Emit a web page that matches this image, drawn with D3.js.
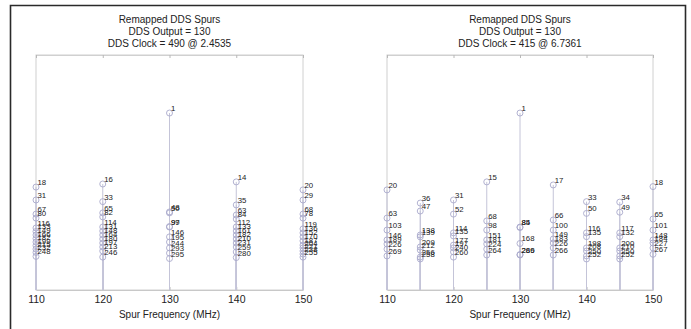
<!DOCTYPE html>
<html>
<head>
<meta charset="utf-8">
<script src="https://cdn.jsdelivr.net/npm/d3@7"></script>
<style>
  body { margin: 0; background: #fff; }
  svg { display: block; font-family: "Liberation Sans", Arial, sans-serif; }
</style>
</head>
<body>
<svg id="chart"></svg>
<script>
// tick labels shared by both panels
const xTicks = [110, 120, 130, 140, 150];

// left panel: DDS clock 490
const leftTitle = ['Remapped DDS Spurs', 'DDS Output = 130', 'DDS Clock = 490 @ 2.4535'];
const leftFreqs = [110, 120, 130, 140, 150];
const leftOrders = [
    [18, 31, 67, 80, 116, 133, 149, 166, 182, 199, 215, 232, 248],
    [16, 33, 65, 82, 114, 131, 148, 164, 180, 197, 213, 246],
    [1, 48, 50, 97, 99, 146, 195, 244, 293, 295],
    [14, 35, 63, 84, 112, 133, 161, 182, 210, 231, 259, 280],
    [20, 29, 68, 78, 119, 136, 152, 170, 187, 204, 221, 238, 255]
];
const leftLevels = [
    [43.8, 38.3, 32.3, 30.6, 26.4, 24.9, 23.4, 21.9, 20.4, 18.9, 17.4, 16.0, 14.3],
    [45.1, 37.6, 32.8, 31.1, 26.8, 25.1, 23.4, 21.7, 20.0, 18.3, 16.6, 14.0],
    [75.3, 33.2, 32.8, 27.0, 26.8, 22.6, 20.4, 17.9, 15.7, 13.4],
    [46.0, 36.2, 31.9, 30.2, 26.8, 25.1, 23.4, 21.7, 20.0, 18.3, 16.2, 13.8],
    [42.6, 38.3, 32.3, 30.6, 26.0, 24.3, 22.6, 20.9, 19.1, 17.9, 16.6, 15.3, 14.0]
];

// right panel: DDS clock 415
const rightTitle = ['Remapped DDS Spurs', 'DDS Output = 130', 'DDS Clock = 415 @ 6.7361'];
const rightFreqs = [110, 115, 120, 125, 130, 135, 140, 145, 150];
const rightOrders = [
    [20, 63, 103, 146, 189, 226, 269],
    [36, 47, 138, 139, 209, 212, 256, 258],
    [31, 52, 114, 135, 177, 197, 240, 260],
    [15, 68, 98, 151, 181, 224, 264],
    [1, 84, 85, 168, 269, 286],
    [17, 66, 100, 149, 183, 226, 266],
    [33, 50, 116, 135, 198, 208, 250, 252],
    [34, 49, 117, 132, 200, 210, 250, 252],
    [18, 65, 101, 148, 184, 227, 267]
];
const rightLevels = [
    [42.6, 30.6, 25.5, 21.3, 19.6, 17.4, 14.5],
    [37.0, 33.6, 23.4, 22.6, 18.3, 17.0, 14.0, 13.2],
    [38.3, 32.3, 24.3, 23.0, 19.1, 17.9, 16.2, 14.0],
    [46.0, 29.4, 25.5, 21.3, 19.6, 17.4, 14.9],
    [75.3, 26.8, 26.6, 19.8, 15.1, 14.9],
    [44.7, 29.8, 25.5, 21.7, 20.0, 17.9, 14.9],
    [37.6, 32.6, 24.3, 22.7, 17.9, 16.6, 14.5, 13.2],
    [37.4, 33.1, 24.3, 22.7, 17.9, 16.6, 14.5, 13.2],
    [44.0, 30.2, 25.5, 21.3, 20.0, 17.9, 15.2]
];

const W = 691, H = 329;
const svg = d3.select('#chart').attr('width', W).attr('height', H);

// outer frame (no bottom edge in the reference)
svg.append('path')
    .attr('d', `M10.5,${H + 2}V5.5H685.5V${H + 2}`)
    .attr('fill', 'none')
    .attr('stroke', '#2a2a2a')
    .attr('stroke-width', 1.6);

function drawPanel(title, freqs, orders, levels, left, right) {
    const x = d3.scaleLinear().domain([110, 150]).range([left, right]);
    const y = d3.scaleLinear().domain([0, 100]).range([290, 55]);
    const g = svg.append('g');

    const spurs = [];
    freqs.forEach((f, i) => {
        orders[i].forEach((o, j) => spurs.push({ f: f, order: o, level: levels[i][j] }));
    });

    g.append('rect')
        .attr('x', x(110)).attr('y', y(100))
        .attr('width', x(150) - x(110)).attr('height', y(0) - y(100))
        .attr('fill', 'none').attr('stroke', '#d0d0d0');

    const bottom = g.append('g')
        .attr('transform', `translate(0,${y(0)})`)
        .call(d3.axisBottom(x).tickValues(xTicks).tickFormat(d3.format('d'))
            .tickSizeInner(-3).tickSizeOuter(0).tickPadding(6));
    bottom.select('.domain').attr('stroke', '#c8c8c8');
    bottom.selectAll('line').attr('stroke', '#b8b8b8');
    bottom.selectAll('text').attr('font-size', 10.5).attr('fill', '#222')
        .attr('font-family', '"Liberation Sans", Arial, sans-serif');

    const top = g.append('g')
        .attr('transform', `translate(0,${y(100)})`)
        .call(d3.axisTop(x).tickValues(xTicks).tickFormat('').tickSizeInner(-3).tickSizeOuter(0));
    top.select('.domain').attr('stroke', '#d0d0d0');
    top.selectAll('line').attr('stroke', '#b8b8b8');

    g.append('text')
        .attr('x', (left + right) / 2).attr('y', 318)
        .attr('text-anchor', 'middle').attr('font-size', 10).attr('fill', '#222')
        .text('Spur Frequency (MHz)');

    g.selectAll('.title').data(title).enter().append('text')
        .attr('x', (left + right) / 2)
        .attr('y', (d, i) => 22.5 + i * 12.3)
        .attr('text-anchor', 'middle').attr('font-size', 10).attr('fill', '#222')
        .text(d => d);

    g.selectAll('.stem').data(spurs).enter().append('line')
        .attr('x1', d => x(d.f)).attr('x2', d => x(d.f))
        .attr('y1', y(0)).attr('y2', d => y(d.level))
        .attr('stroke', '#c4c4d8').attr('stroke-width', 1);

    g.selectAll('.mark').data(spurs).enter().append('circle')
        .attr('cx', d => x(d.f)).attr('cy', d => y(d.level)).attr('r', 3)
        .attr('fill', 'none').attr('stroke', '#a9a9cc').attr('stroke-width', 0.9);

    g.selectAll('.lab').data(spurs).enter().append('text')
        .attr('x', d => x(d.f) + 1.5).attr('y', d => y(d.level) - 2)
        .attr('font-size', 7.8).attr('fill', '#222')
        .text(d => d.order);
}

drawPanel(leftTitle, leftFreqs, leftOrders, leftLevels, 36, 303);
drawPanel(rightTitle, rightFreqs, rightOrders, rightLevels, 387, 653);
</script>
</body>
</html>
